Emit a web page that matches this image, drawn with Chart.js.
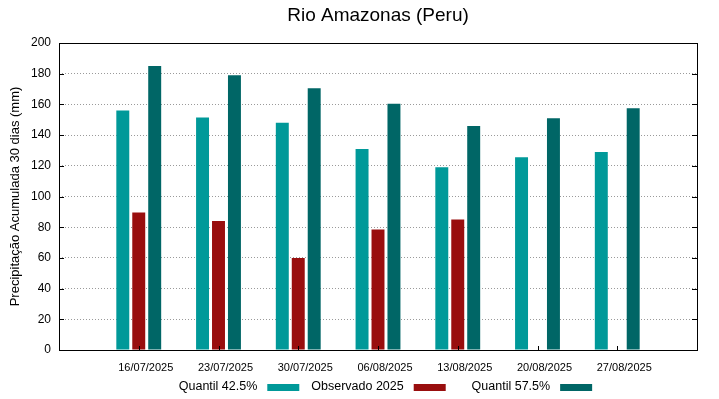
<!DOCTYPE html>
<html>
<head>
<meta charset="utf-8">
<script src="https://cdn.jsdelivr.net/npm/chart.js@4.4.1/dist/chart.umd.min.js"></script>
<style>
  html, body { margin: 0; padding: 0; background: #fff; }
  #wrap { width: 719px; height: 399px; }
</style>
</head>
<body>
<div id="wrap"><canvas id="rioChart"></canvas></div>
<script>
const datas = ['16/07/2025', '23/07/2025', '30/07/2025', '06/08/2025', '13/08/2025', '20/08/2025', '27/08/2025'];
const quantil425 = [156, 151.5, 148, 131, 119, 125.5, 129];
const observado = [89.5, 84, 60, 78.5, 85, null, null];
const quantil575 = [185, 179, 170.5, 160.5, 146, 151, 157.5];
const yTicks = [0, 20, 40, 60, 80, 100, 120, 140, 160, 180, 200];

// gnuplot style: axis from -1 to 7, empty slot each side
const pad = arr => [null, ...arr, null];

const FONT = 'Liberation Sans, Arial, sans-serif';
const ctx = document.getElementById('rioChart');

const RioChart = new Chart(ctx, {
    type: 'bar',
    data: {
      labels: ['', ...datas, ''],
      datasets: [{
        label: 'Quantil 42.5%',
        data: pad(quantil425),
        backgroundColor: '#009999'
      },
      {
        label: 'Observado 2025',
        data: pad(observado),
        backgroundColor: '#990e0e'
      },
      {
        label: 'Quantil 57.5%',
        data: pad(quantil575),
        backgroundColor: '#006666'
      }]
    },
    plugins: [{
      id: 'gnuplotFrame',
      afterDraw: (chart) => {
          const { ctx, chartArea: a, scales: { x, y } } = chart;
          ctx.save();
          // frame
          ctx.strokeStyle = '#000';
          ctx.lineWidth = 1;
          ctx.strokeRect(Math.round(a.left) + 0.5, Math.round(a.top) + 0.5,
                         Math.round(a.right - a.left), Math.round(a.bottom - a.top));
          // inward ticks
          ctx.beginPath();
          yTicks.forEach(v => {
              const py = Math.round(y.getPixelForValue(v)) + 0.5;
              ctx.moveTo(a.left, py); ctx.lineTo(a.left + 5, py);
              ctx.moveTo(a.right, py); ctx.lineTo(a.right - 5, py);
          });
          datas.forEach((d, i) => {
              const px = Math.round(x.getPixelForValue(i + 1)) + 0.5;
              ctx.moveTo(px, a.bottom); ctx.lineTo(px, a.bottom - 4);
          });
          ctx.stroke();

          // title
          ctx.fillStyle = '#000';
          ctx.font = '19px ' + FONT;
          ctx.textAlign = 'center';
          ctx.textBaseline = 'middle';
          ctx.fillText('Rio Amazonas (Peru)', (a.left + a.right) / 2, 16);

          // legend: text right-justified, sample after it
          ctx.font = '12.5px ' + FONT;
          const sets = chart.data.datasets;
          const maxW = Math.max(...sets.map(s => ctx.measureText(s.label).width));
          const colW = maxW + 10 + 32 + 12;
          let x0 = (a.left + a.right) / 2 - (colW * sets.length - 12) / 2 + 0.5;
          ctx.textAlign = 'right';
          sets.forEach((s, i) => {
              const tx = x0 + i * colW + maxW;
              ctx.fillStyle = '#000';
              ctx.fillText(s.label, tx, 387);
              ctx.fillStyle = s.backgroundColor;
              ctx.fillRect(tx + 10, 384, 32, 7);
          });
          ctx.restore();
      }
    }],
    options: {
        responsive: true,
        maintainAspectRatio: false,
        animation: false,
        layout: {
            padding: { top: 43, right: 22, left: 0, bottom: 0 }
        },
        datasets: {
            bar: {
                categoryPercentage: 0.6,
                barPercentage: 0.8125
            }
        },
        plugins: {
            legend: { display: false },
            title: { display: false },
            tooltip: { enabled: false }
        },
        scales: {
          x: {
              offset: false,
              grid: { display: false },
              border: { display: false },
              afterFit: (scale) => { scale.height = 49; },
              ticks: {
                  autoSkip: false,
                  maxRotation: 0,
                  minRotation: 0,
                  labelOffset: 7,
                  padding: 3,
                  color: '#000',
                  font: { family: FONT, size: 11 }
              }
          },
          y: {
            min: 0,
            max: 200,
            afterFit: (scale) => { scale.width = 59; },
            afterBuildTicks: (scale) => { scale.ticks = yTicks.map(v => ({ value: v })); },
            grid: {
              color: '#9a9a9a',
              drawTicks: false
            },
            border: { display: false, dash: [1, 2] },
            ticks: {
              padding: 8,
              color: '#000',
              font: { family: FONT, size: 12 }
            },
            title: {
              display: true,
              text: 'Precipitação Acumulada 30 dias (mm)',
              color: '#000',
              padding: { top: 8 },
              font: { family: FONT, size: 13 }
            }
          }
        }
    }
});
</script>
</body>
</html>
